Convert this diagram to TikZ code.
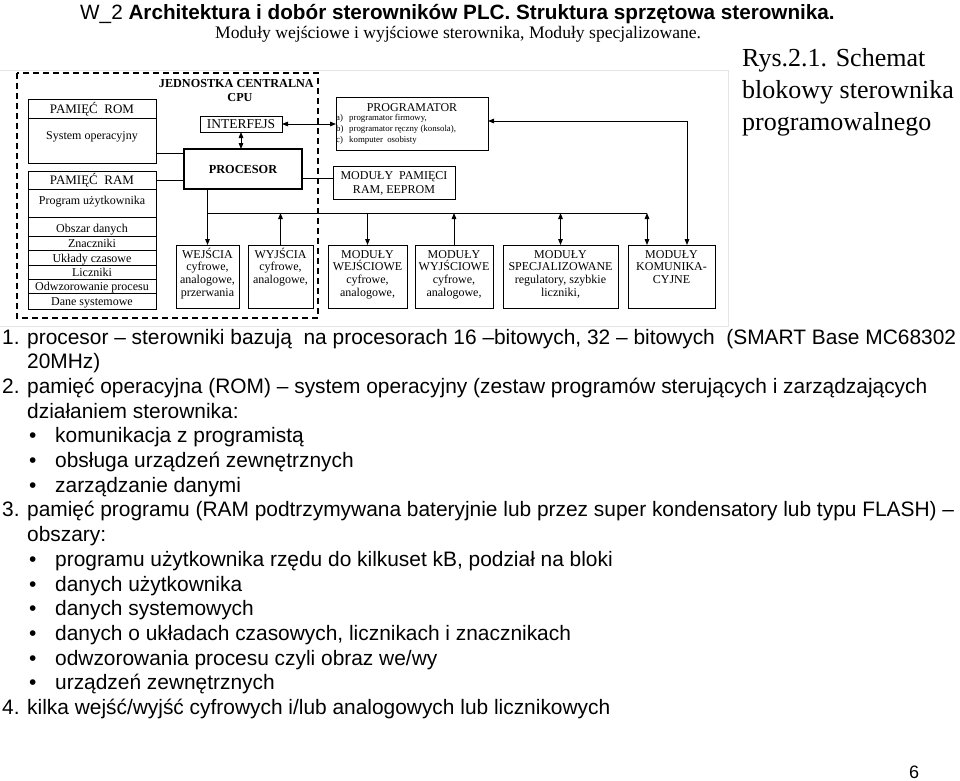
\documentclass[tikz,border=0pt]{standalone}
\usepackage{fontspec}
\setmainfont{Liberation Serif}
\setsansfont{Liberation Sans}
\usetikzlibrary{arrows.meta}
\newcommand{\dgf}{\rmfamily\fontsize{12}{13}\selectfont}
\newcommand{\bodyf}{\sffamily\fontsize{20.9}{24}\selectfont}
\newcommand{\mlines}[4]{%
  \foreach \t [count=\i from 0] in {#4} {
    \node[lbl, anchor=base] (#1-\i) at (#2, #3+12.7*\i) {\t};
  }}
\begin{document}
\begin{tikzpicture}[x=1pt,y=-1pt,
  box/.style={draw, line width=0.9pt, inner sep=0pt, outer sep=0pt, anchor=north west, font=\dgf},
  lbl/.style={inner sep=0pt, font=\dgf},
  conn/.style={line width=0.9pt},
  arr/.style={conn, -{Triangle[length=6pt,width=4.6pt]}},
  darr/.style={conn, {Triangle[length=6pt,width=4.6pt]}-{Triangle[length=6pt,width=4.6pt]}},
  bodyt/.style={inner sep=0pt, anchor=base west, font=\bodyf},
  rys/.style={inner sep=0pt, anchor=base west, font=\rmfamily\fontsize{26}{31}\selectfont},
]
\useasboundingbox (0,0) rectangle (960,780);
\fill[white] (0,0) rectangle (960,780);
% faint scan edge
\draw[black!10, line width=0.8pt] (0,70) -- (728,70) -- (728,326) -- (0,326);

% headers
\node[inner sep=0pt, anchor=base west, font=\sffamily\fontsize{20.7}{22}\selectfont] (hdr) at (80,19) {W\_2 \textbf{Architektura i dobór sterowników PLC. Struktura sprzętowa sterownika.}};
\node[inner sep=0pt, anchor=base west, font=\rmfamily\fontsize{17.6}{19}\selectfont] (sub) at (215,38) {Moduły wejściowe i wyjściowe sterownika, Moduły specjalizowane.};
\node[rys] (rys1) at (742,66) {Rys.2.1. Schemat};
\node[rys] (rys2) at (742,98) {blokowy sterownika};
\node[rys] (rys3) at (742,130) {programowalnego};

% CPU dashed frame
\draw[line width=1.6pt, dash pattern=on 6pt off 4pt] (17,73) rectangle (318,318);
\node[lbl, anchor=base east, font=\rmfamily\bfseries\fontsize{12.2}{13}\selectfont] (jc) at (314,87) {JEDNOSTKA CENTRALNA};
\node[lbl, anchor=base, font=\rmfamily\bfseries\fontsize{12.2}{13}\selectfont] (cpu) at (240,101) {CPU};

% ROM
\node[box, minimum width=128pt, minimum height=64pt] (rom) at (28,99) {};
\draw[conn] (28,118) -- (156,118);
\node[lbl, anchor=base, font=\rmfamily\fontsize{13}{14}\selectfont] (romh) at (92,113) {PAMIĘĆ\enspace ROM};
\node[lbl, anchor=base] (romt) at (92,139) {System operacyjny};

% RAM
\node[box, minimum width=128pt, minimum height=138pt] (ram) at (28,171) {};
\foreach \yy in {189,217,236,250,265,279,293} {\draw[conn] (28,\yy) -- (156,\yy);}
\node[lbl, anchor=base, font=\rmfamily\fontsize{13}{14}\selectfont] (ramh) at (92,184.5) {PAMIĘĆ\enspace RAM};
\node[lbl, anchor=base] (ram1) at (92,204) {Program użytkownika};
\node[lbl, anchor=base] (ram2) at (92,232) {Obszar danych};
\node[lbl, anchor=base] (ram3) at (92,247) {Znaczniki};
\node[lbl, anchor=base] (ram4) at (92,262) {Układy czasowe};
\node[lbl, anchor=base] (ram5) at (92,276) {Liczniki};
\node[lbl, anchor=base] (ram6) at (92,290) {Odwzorowanie procesu};
\node[lbl, anchor=base] (ram7) at (92,305) {Dane systemowe};

% INTERFEJS, PROCESOR
\node[box, minimum width=82pt, minimum height=16pt, font=\rmfamily\fontsize{13.5}{14}\selectfont] (intf) at (200,116) {INTERFEJS};
\node[box, line width=2pt, minimum width=118pt, minimum height=40pt, font=\rmfamily\bfseries\fontsize{12.3}{13}\selectfont] (proc) at (184,149) {PROCESOR};

% PROGRAMATOR
\node[box, minimum width=152pt, minimum height=53pt] (prog) at (336,97) {};
\node[lbl, anchor=base] (progh) at (412,111) {PROGRAMATOR};
\node[lbl, anchor=base west, font=\rmfamily\fontsize{8.8}{10}\selectfont] (pa) at (336,120.5) {a)};
\node[lbl, anchor=base west, font=\rmfamily\fontsize{8.8}{10}\selectfont] (pat) at (349,120.5) {programator firmowy,};
\node[lbl, anchor=base west, font=\rmfamily\fontsize{8.8}{10}\selectfont] (pb) at (336,131) {b)};
\node[lbl, anchor=base west, font=\rmfamily\fontsize{8.8}{10}\selectfont] (pbt) at (349,131) {programator ręczny (konsola),};
\node[lbl, anchor=base west, font=\rmfamily\fontsize{8.8}{10}\selectfont] (pc) at (336,142) {c)};
\node[lbl, anchor=base west, font=\rmfamily\fontsize{8.8}{10}\selectfont] (pct) at (349,142) {komputer\enspace osobisty};

% MODUŁY PAMIĘCI
\node[box, minimum width=122pt, minimum height=33pt] (mp) at (333,166) {};
\node[lbl, anchor=base] (mp1) at (394,179) {MODUŁY\enspace PAMIĘCI};
\node[lbl, anchor=base] (mp2) at (394,193) {RAM, EEPROM};

% bottom row boxes
\node[box, minimum width=63pt, minimum height=63pt] (wej) at (176,245) {};
\node[box, minimum width=65pt, minimum height=63pt] (wyj) at (248,245) {};
\node[box, minimum width=79pt, minimum height=63pt] (mwe) at (328,245) {};
\node[box, minimum width=78pt, minimum height=63pt] (mwy) at (415,245) {};
\node[box, minimum width=115pt, minimum height=63pt] (msp) at (503,245) {};
\node[box, minimum width=87pt, minimum height=63pt] (mko) at (628,245) {};
\mlines{wejt}{207.5}{258}{WEJŚCIA,{cyfrowe,},{analogowe,},przerwania}
\mlines{wyjt}{280.5}{258}{WYJŚCIA,{cyfrowe,},{analogowe,}}
\mlines{mwet}{367.5}{258}{MODUŁY,WEJŚCIOWE,{cyfrowe,},{analogowe,}}
\mlines{mwyt}{454}{258}{MODUŁY,WYJŚCIOWE,{cyfrowe,},{analogowe,}}
\mlines{mspt}{560.5}{258}{MODUŁY,SPECJALIZOWANE,{regulatory, szybkie},{liczniki,}}
\mlines{mkot}{671.5}{258}{MODUŁY,KOMUNIKA-,CYJNE}

% connectors
\coordinate (busL) at (207.5,213);
\coordinate (busR) at (647,213);
\coordinate (pkx) at (687,121);
\draw[conn] ([yshift=-22pt]rom.east) -- ([yshift=-22pt]rom.east -| proc.west);
\draw[conn] ([yshift=-9pt]ram.north east) -- ([yshift=-9pt]ram.north east -| proc.west);
\draw[conn] ([yshift=-9pt]proc.east) -- ([yshift=-9pt]proc.east -| mp.west);
\draw[darr] (intf.south) -- (intf.south |- proc.north);
\draw[darr] (intf.east) -- (intf.east -| prog.west);
\draw[arr] (wej.north |- proc.south) -- (wej.north);
\draw[conn] (busL) -- (busR);
\draw[arr] (wyj.north) -- (wyj.north |- busL);
\draw[arr] (mwe.north |- busL) -- (mwe.north);
\draw[arr] (mwy.north) -- (mwy.north |- busL);
\draw[darr] (msp.north |- busL) -- (msp.north);
\draw[darr] (busR) -- (busR |- mko.north);
\draw[darr] (prog.east |- pkx) -- (pkx) -- (pkx |- mko.north);

% body text
\node[bodyt] (n1) at (2,344) {1.};
\node[bodyt] (l0) at (27,344) {procesor – sterowniki bazują\ \ na procesorach 16 –bitowych, 32 – bitowych\ \ (SMART Base MC68302};
\node[bodyt] (l1) at (27,368.7) {20MHz)};
\node[bodyt] (n2) at (2,393.4) {2.};
\node[bodyt] (l2) at (27,393.4) {pamięć operacyjna (ROM) – system operacyjny (zestaw programów sterujących i zarządzających};
\node[bodyt] (l3) at (27,418.1) {działaniem sterownika:};
\node[bodyt] (b4) at (29,442.8) {•};
\node[bodyt] (l4) at (55,442.8) {komunikacja z programistą};
\node[bodyt] (b5) at (29,467.5) {•};
\node[bodyt] (l5) at (55,467.5) {obsługa urządzeń zewnętrznych};
\node[bodyt] (b6) at (29,492.2) {•};
\node[bodyt] (l6) at (55,492.2) {zarządzanie danymi};
\node[bodyt] (n3) at (2,516.9) {3.};
\node[bodyt] (l7) at (27,516.9) {pamięć programu (RAM podtrzymywana bateryjnie lub przez super kondensatory lub typu FLASH) –};
\node[bodyt] (l8) at (27,541.6) {obszary:};
\node[bodyt] (b9) at (29,566.3) {•};
\node[bodyt] (l9) at (55,566.3) {programu użytkownika rzędu do kilkuset kB, podział na bloki};
\node[bodyt] (b10) at (29,591) {•};
\node[bodyt] (l10) at (55,591) {danych użytkownika};
\node[bodyt] (b11) at (29,615.7) {•};
\node[bodyt] (l11) at (55,615.7) {danych systemowych};
\node[bodyt] (b12) at (29,640.4) {•};
\node[bodyt] (l12) at (55,640.4) {danych o układach czasowych, licznikach i znacznikach};
\node[bodyt] (b13) at (29,665.1) {•};
\node[bodyt] (l13) at (55,665.1) {odwzorowania procesu czyli obraz we/wy};
\node[bodyt] (b14) at (29,689.8) {•};
\node[bodyt] (l14) at (55,689.8) {urządzeń zewnętrznych};
\node[bodyt] (n4) at (2,714.5) {4.};
\node[bodyt] (l15) at (27,714.5) {kilka wejść/wyjść cyfrowych i/lub analogowych lub licznikowych};

\node[inner sep=0pt, anchor=base west, font=\sffamily\fontsize{18}{20}\selectfont] (pg) at (909,778) {6};
\end{tikzpicture}
\end{document}
